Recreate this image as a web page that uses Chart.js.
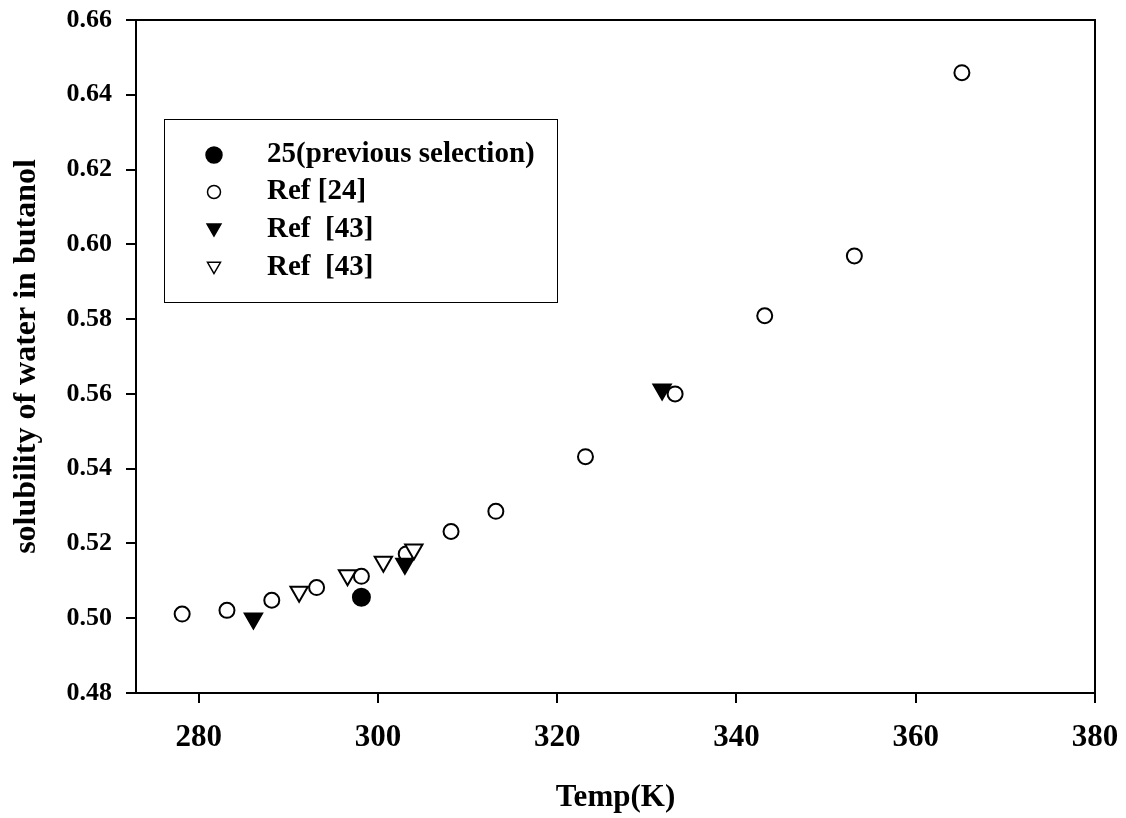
<!DOCTYPE html>
<html>
<head>
<meta charset="utf-8">
<script src="https://cdn.jsdelivr.net/npm/chart.js@4.4.1/dist/chart.umd.min.js"></script>
<style>
html,body{margin:0;padding:0;background:#fff;}
#wrap{width:1126px;height:818px;position:relative;}
</style>
</head>
<body>
<div id="wrap"><canvas id="c" width="1126" height="818"></canvas></div>
<script>
// ---- data ----
const xTickValues = [280, 300, 320, 340, 360, 380];
const yTickValues = [0.48, 0.50, 0.52, 0.54, 0.56, 0.58, 0.60, 0.62, 0.64, 0.66];

const seriesLabels = ['25(previous selection)', 'Ref [24]', 'Ref  [43]', 'Ref  [43]'];

const prevTemp = [298.15];
const prevSol  = [0.5056];

const ref24Temp = [278.15, 283.15, 288.15, 293.15, 298.15, 303.15, 308.15, 313.15, 323.15, 333.15, 343.15, 353.15, 365.15];
const ref24Sol  = [0.5011, 0.5021, 0.5048, 0.5082, 0.5112, 0.5172, 0.5232, 0.5286, 0.5432, 0.5600, 0.5809, 0.5969, 0.6459];

const ref43aTemp = [286.1, 303.0, 331.7];
const ref43aSol  = [0.4999, 0.5146, 0.5612];

const ref43bTemp = [291.2, 296.6, 300.6, 304.0];
const ref43bSol  = [0.5071, 0.5115, 0.5151, 0.5184];

const xTitle = 'Temp(K)';
const yTitle = 'solubility of water in butanol';

// ---- helpers ----
const FONT = "'Liberation Serif', 'Times New Roman', Times, serif";
const pts = (xs, ys) => xs.map((x, i) => ({x: x, y: ys[i]}));

const markerStyles = [
  {pointStyle: 'circle', rotation: 0, fill: '#000', radius: 8.5, legendRadius: 8},
  {pointStyle: 'circle', rotation: 0, fill: '#fff', radius: 7.5, legendRadius: 6.5},
  {pointStyle: 'triangle', rotation: 180, fill: '#000', radius: 10, legendRadius: 8},
  {pointStyle: 'triangle', rotation: 180, fill: '#fff', radius: 10, legendRadius: 7.5}
];

function drawMarker(ctx, style, x, y, r, lw) {
  ctx.save();
  ctx.beginPath();
  if (style.pointStyle === 'circle') {
    ctx.arc(x, y, r, 0, Math.PI * 2);
  } else {
    const rad = style.rotation * Math.PI / 180;
    for (let k = 0; k < 3; k++) {
      const a = rad + k * 2 * Math.PI / 3;
      const px = x + Math.sin(a) * r, py = y - Math.cos(a) * r;
      if (k === 0) ctx.moveTo(px, py); else ctx.lineTo(px, py);
    }
    ctx.closePath();
  }
  ctx.fillStyle = style.fill;
  ctx.fill();
  ctx.lineWidth = lw;
  ctx.strokeStyle = '#000';
  ctx.stroke();
  ctx.restore();
}

const frameAndLegend = {
  id: 'frameAndLegend',
  beforeDatasetsDraw(chart) {
    const {ctx, chartArea: a} = chart;
    ctx.save();
    ctx.strokeStyle = '#000';
    ctx.lineWidth = 2;
    ctx.strokeRect(a.left, a.top, a.right - a.left, a.bottom - a.top);
    ctx.restore();
  },
  afterDatasetsDraw(chart) {
    const {ctx, chartArea: a} = chart;
    const bx = a.left + 28, by = a.top + 99, bw = 393, bh = 183;
    ctx.save();
    ctx.fillStyle = '#fff';
    ctx.fillRect(bx, by, bw, bh);
    ctx.strokeStyle = '#000';
    ctx.lineWidth = 1;
    ctx.strokeRect(bx + 0.5, by + 0.5, bw, bh);
    const rowY = [36, 73, 111, 149];
    ctx.font = "bold 29px " + FONT;
    ctx.fillStyle = '#000';
    ctx.textBaseline = 'middle';
    ctx.textAlign = 'left';
    chart.data.datasets.forEach((ds, i) => {
      const st = markerStyles[i];
      const yy = by + rowY[i];
      drawMarker(ctx, st, bx + 50, yy + (st.pointStyle === 'triangle' ? -2 : 0), st.legendRadius, 1.5);
      ctx.fillText(ds.label, bx + 103, yy);
    });
    ctx.restore();
  }
};

const datasets = [
  {label: seriesLabels[0], data: pts(prevTemp, prevSol)},
  {label: seriesLabels[1], data: pts(ref24Temp, ref24Sol)},
  {label: seriesLabels[2], data: pts(ref43aTemp, ref43aSol)},
  {label: seriesLabels[3], data: pts(ref43bTemp, ref43bSol)}
].map((d, i) => Object.assign(d, {
  pointStyle: markerStyles[i].pointStyle,
  rotation: markerStyles[i].rotation,
  pointRadius: markerStyles[i].radius,
  pointHoverRadius: markerStyles[i].radius,
  backgroundColor: markerStyles[i].fill,
  borderColor: '#000',
  borderWidth: 2,
  showLine: false,
  order: [0, 3, 1, 2][i]
}));

new Chart(document.getElementById('c'), {
  type: 'scatter',
  data: {datasets},
  options: {
    responsive: false,
    animation: false,
    devicePixelRatio: 1,
    layout: {padding: {left: 0, top: 20, right: 31, bottom: 0}},
    plugins: {legend: {display: false}, tooltip: {enabled: false}},
    scales: {
      x: {
        type: 'linear',
        position: 'bottom',
        min: 273,
        max: 380,
        afterBuildTicks: s => { s.ticks = xTickValues.map(v => ({value: v})); },
        afterFit: s => { s.height = 125; s.paddingLeft = 0; s.paddingRight = 0; },
        grid: {display: true, drawOnChartArea: false, drawTicks: true, tickLength: 10, color: '#000', lineWidth: 2},
        border: {display: true, color: '#000', width: 2},
        ticks: {color: '#000', padding: 16, maxRotation: 0, autoSkip: false,
                font: {family: FONT, size: 31, weight: 'bold'},
                callback: v => String(v)},
        title: {display: true, text: xTitle, color: '#000',
                font: {family: FONT, size: 31, weight: 'bold'},
                padding: {top: 0, bottom: 1}}
      },
      y: {
        type: 'linear',
        position: 'left',
        min: 0.48,
        max: 0.66,
        afterBuildTicks: s => { s.ticks = yTickValues.map(v => ({value: v})); },
        afterFit: s => { s.width = 136; s.paddingTop = 0; s.paddingBottom = 0; },
        grid: {display: true, drawOnChartArea: false, drawTicks: true, tickLength: 10, color: '#000', lineWidth: 2},
        border: {display: true, color: '#000', width: 2},
        ticks: {color: '#000', padding: 14, autoSkip: false,
                font: {family: FONT, size: 26, weight: 'bold'},
                callback: v => Number(v).toFixed(2)},
        title: {display: true, text: yTitle, color: '#000',
                font: {family: FONT, size: 32, weight: 'bold'},
                padding: {top: 8, bottom: 0}}
      }
    }
  },
  plugins: [frameAndLegend]
});
</script>
</body>
</html>
